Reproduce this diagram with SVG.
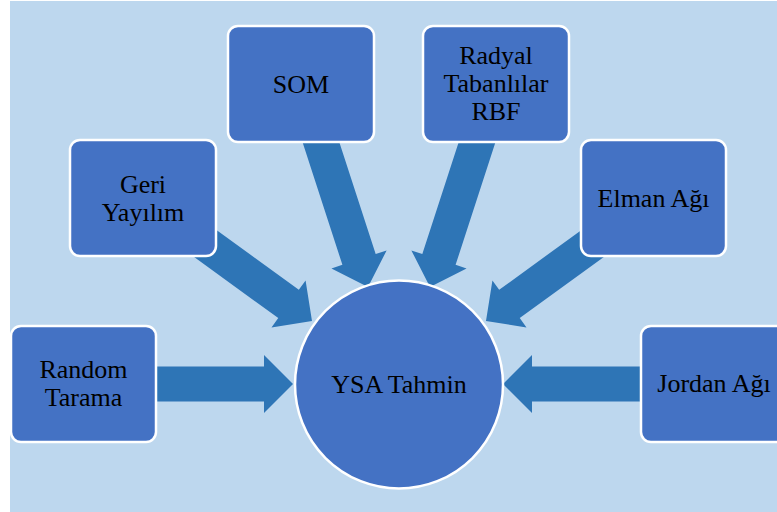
<svg xmlns="http://www.w3.org/2000/svg" width="777" height="512" viewBox="0 0 777 512">
<style>
.bg{fill:#BDD7EE}
.box{fill:#4472C4;stroke:#FFFFFF;stroke-width:2.5}
.arr{fill:#2E75B6}
.t{font-family:"Liberation Serif","Times New Roman",serif;font-size:26px;fill:#000;text-anchor:middle}
</style>
<rect x="0" y="0" width="777" height="512" fill="#FFFFFF"/>
<rect class="bg" x="10" y="1" width="767" height="511"/>
<g id="connectors">
<path class="arr" transform="translate(293,384)" d="M-143,-17.5 H-29 V-29 L0,0 L-29,29 V17.5 H-143 Z"/>
<path class="arr" transform="translate(503,384) rotate(180)" d="M-147,-17.5 H-29 V-29 L0,0 L-29,29 V17.5 H-147 Z"/>
<path class="arr" transform="translate(312,321) rotate(36)" d="M-150,-17.5 H-29 V-29 L0,0 L-29,29 V17.5 H-150 Z"/>
<path class="arr" transform="translate(486,321) rotate(144)" d="M-150,-17.5 H-29 V-29 L0,0 L-29,29 V17.5 H-150 Z"/>
<path class="arr" transform="translate(368,287) rotate(72)" d="M-165,-17.5 H-29 V-29 L0,0 L-29,29 V17.5 H-165 Z"/>
<path class="arr" transform="translate(430,287) rotate(108)" d="M-165,-17.5 H-29 V-29 L0,0 L-29,29 V17.5 H-165 Z"/>
</g>
<g id="center">
<circle class="box" cx="399" cy="384.5" r="104"/>
<text class="t" x="399" y="393">YSA Tahmin</text>
</g>
<g id="random">
<rect class="box" x="11" y="326" width="145" height="116" rx="10"/>
<text class="t" x="83.5" y="378">Random</text>
<text class="t" x="83.5" y="406">Tarama</text>
</g>
<g id="geri">
<rect class="box" x="70" y="140" width="146" height="116" rx="10"/>
<text class="t" x="143" y="193">Geri</text>
<text class="t" x="143" y="221">Yayılım</text>
</g>
<g id="som">
<rect class="box" x="228" y="26" width="146" height="116" rx="10"/>
<text class="t" x="301" y="93">SOM</text>
</g>
<g id="radyal">
<rect class="box" x="423" y="26" width="146" height="116" rx="10"/>
<text class="t" x="496" y="64">Radyal</text>
<text class="t" x="496" y="92">Tabanlılar</text>
<text class="t" x="496" y="120">RBF</text>
</g>
<g id="elman">
<rect class="box" x="581" y="140" width="145" height="116" rx="10"/>
<text class="t" x="653.5" y="207">Elman Ağı</text>
</g>
<g id="jordan">
<rect class="box" x="641" y="326" width="146" height="116" rx="10"/>
<text class="t" x="714" y="392">Jordan Ağı</text>
</g>
</svg>
